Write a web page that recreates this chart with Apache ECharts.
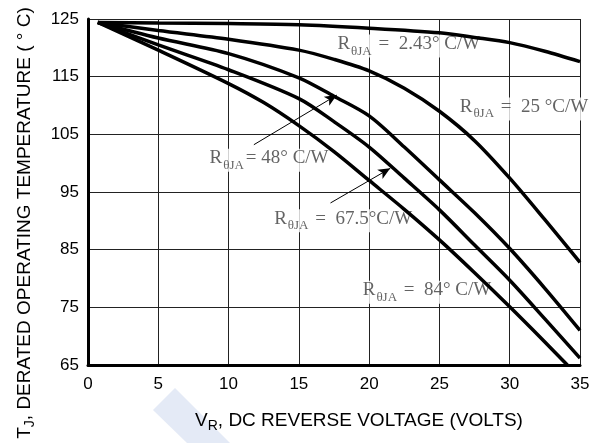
<!DOCTYPE html>
<html><head><meta charset="utf-8">
<script src="https://cdn.jsdelivr.net/npm/echarts@6/dist/echarts.min.js"></script>
<style>html,body{margin:0;padding:0;background:#fff}#c{width:600px;height:443px}</style>
</head><body><div id="c"></div>
<script>
// Reverse voltage (V) and derated operating temperature (°C) per thermal resistance curve
const vr243 = [0.7, 5, 10, 15, 20, 25, 27.5, 30, 32.5, 35];
const tj243 = [124.4, 124.3, 124.2, 124.0, 123.4, 122.6, 121.8, 120.9, 119.4, 117.6];
const vr25 = [0.7, 5, 10, 15, 17.5, 20, 22.5, 25, 27.5, 30, 32.5, 35];
const tj25 = [124.4, 123.0, 121.5, 119.6, 118.0, 116.0, 113.0, 109.0, 103.9, 97.4, 90.2, 82.8];
const vr48 = [0.7, 5, 10, 15, 17.5, 20, 22.5, 25, 27.5, 30, 32.5, 35];
const tj48 = [124.4, 121.7, 119.0, 114.8, 111.6, 108.2, 102.8, 97.1, 91.4, 85.2, 78.3, 71.0];
const vr675 = [0.7, 5, 10, 15, 17.5, 20, 22.5, 25, 27.5, 30, 32.5, 35];
const tj675 = [124.4, 120.5, 116.2, 111.2, 107.2, 102.8, 97.4, 91.9, 85.8, 79.7, 73.0, 66.2];
const vr84 = [0.7, 5, 10, 12.5, 15, 17.5, 20, 22.5, 25, 27.5, 30, 32.5, 34.1];
const tj84 = [124.4, 119.6, 113.8, 110.5, 106.5, 102.0, 97.0, 92.0, 86.7, 81.0, 75.1, 69.0, 65.0];
const xTicks = [0, 5, 10, 15, 20, 25, 30, 35];
const yTicks = [65, 75, 85, 95, 105, 115, 125];
// annotations: label texts and anchor points (data units)
const labelTexts = [' =  2.43° C/W', ' =  25 °C/W', '= 48° C/W', ' =  67.5°C/W', ' =  84° C/W'];
const labelAnchors = [[17.6, 120.3], [26.3, 109.4], [8.5, 100.5], [13.1, 90.0], [19.4, 77.6]];
const arrowFrom = [[11.8, 103.2], [17.25, 93.1]];
const arrowTo = [[17.7, 111.8], [21.5, 99.1]];

const pair = (xs, ys) => xs.map((x, i) => [x, ys[i]]);
const curves = [[vr243, tj243], [vr25, tj25], [vr48, tj48], [vr675, tj675], [vr84, tj84]];

const serif = 'Liberation Serif';
const sans = 'Liberation Sans';
const txt = '#3c3c3c';
const labelRich = {
  r: {fontFamily: serif, fontSize: 19, color: txt, verticalAlign: 'bottom', padding: [0, 0, 4, 0]},
  s: {fontFamily: serif, fontSize: 13, color: txt, verticalAlign: 'bottom', padding: [0, 2, 0, 1]},
  t: {fontFamily: serif, fontSize: 19, color: txt, verticalAlign: 'bottom', padding: [0, 0, 4, 0]}
};

const series = curves.map((c, i) => ({
  type: 'line', data: pair(c[0], c[1]), smooth: 0.3, showSymbol: false, symbol: 'none',
  lineStyle: {color: '#000', width: 3.5}, z: 5, animation: false, silent: true
}));
series[0].markLine = {
  silent: true, animation: false, symbol: ['none', 'arrow'], symbolSize: [8, 12],
  lineStyle: {color: '#000', width: 1, type: 'solid'}, label: {show: false},
  data: arrowFrom.map((f, i) => [{coord: f}, {coord: arrowTo[i]}])
};
series.push({
  type: 'scatter', symbolSize: 0, silent: true, animation: false, z: 3,
  data: labelAnchors.map((p, i) => ({value: p, name: labelTexts[i]})),
  label: {
    show: true, position: 'right', distance: 0, backgroundColor: '#fff', padding: [0, 2, 0, 2],
    formatter: p => '{r|R}{s|θJA}{t|' + p.name + '}', rich: labelRich
  }
});

const chart = echarts.init(document.getElementById('c'), null, {renderer: 'canvas'});
chart.setOption({
  animation: false,
  backgroundColor: '#fff',
  grid: {left: 88, right: 20, top: 19, bottom: 78, containLabel: false, outerBoundsMode: 'none'},
  graphic: [{type: 'polygon', z: -10, silent: true,
    shape: {points: [[175, 388], [230, 443], [187, 443], [153, 410]]},
    style: {fill: '#e4eaf6'}}],
  xAxis: {
    type: 'value', min: xTicks[0], max: xTicks[xTicks.length - 1], interval: 5,
    axisLine: {show: true, lineStyle: {color: '#000', width: 3}},
    axisTick: {show: false},
    axisLabel: {color: '#000', fontFamily: sans, fontSize: 17, margin: 11},
    splitLine: {show: true, lineStyle: {color: '#222', width: 1}},
    name: '{a|V}{b|R}{a|, DC REVERSE VOLTAGE (VOLTS)}', nameLocation: 'middle', nameGap: 46,
    nameTextStyle: {padding: [0, 0, 0, 50], rich: {
      a: {fontFamily: sans, fontSize: 19, color: '#000', verticalAlign: 'bottom', padding: [0, 0, 3, 0]},
      b: {fontFamily: sans, fontSize: 14, color: '#000', verticalAlign: 'bottom'}}}
  },
  yAxis: {
    type: 'value', min: yTicks[0], max: yTicks[yTicks.length - 1], interval: 10,
    axisLine: {show: true, lineStyle: {color: '#000', width: 3}},
    axisTick: {show: false},
    axisLabel: {color: '#000', fontFamily: sans, fontSize: 17, margin: 9},
    splitLine: {show: true, lineStyle: {color: '#222', width: 1}},
    name: '{a|T}{b|J}{a|, DERATED OPERATING TEMPERATURE ( ° C)}', nameLocation: 'middle', nameGap: 51,
    nameTextStyle: {padding: [0, 62, 0, 0], rich: {
      a: {fontFamily: sans, fontSize: 19, color: '#000', verticalAlign: 'bottom', padding: [0, 0, 3, 0]},
      b: {fontFamily: sans, fontSize: 14, color: '#000', verticalAlign: 'bottom'}}}
  },
  series: series
});
</script></body></html>
